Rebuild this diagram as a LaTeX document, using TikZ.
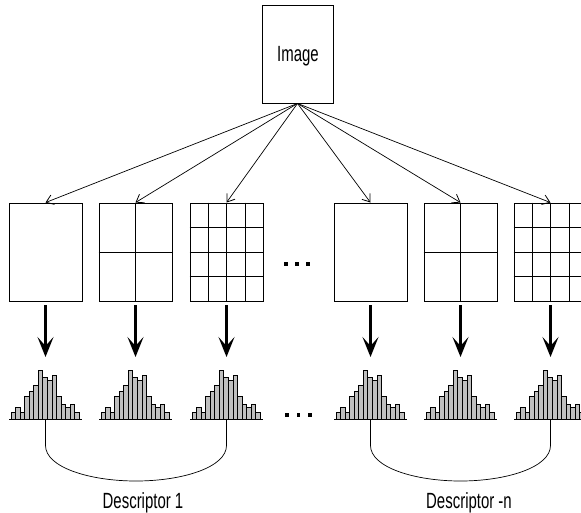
\documentclass[tikz,border=0pt]{standalone}
\usepackage{fontspec}
\setmainfont{Liberation Sans}
\usetikzlibrary{arrows.meta,calc}

\tikzset{
  frame/.style={draw, line width=0.9pt, minimum width=73pt, minimum height=98pt, inner sep=0pt},
  thinarrow/.style={draw, line width=0.7pt, -{Straight Barb[length=7pt,width=10pt,line width=0.8pt]}},
  bigarrow/.style={draw, line width=2.6pt, -{Stealth[length=20pt,width=16pt,inset=9pt]}},
  gridline/.style={line width=0.8pt},
  bar/.style={draw, line width=0.8pt, fill=gray!50},
  dotbox/.style={fill=black, minimum width=3.5pt, minimum height=4.6pt, inner sep=0pt},
  brace/.style={line width=0.7pt},
  label/.style={font=\fontsize{22}{24}\selectfont, xscale=0.68, anchor=base, inner sep=0pt},
  pics/histo/.style={code={
    \foreach \h [count=\i from 0] in {7,12,7,22.7,28,33.7,49,42,38.7,44,22.7,15,12,15,7}{
      \path[bar] ({-34.5+\i*4.553},0) rectangle ({-34.5+(\i+1)*4.553},-\h);
    }
    \draw[line width=1.6pt] (-36.5,0) -- (36.5,0);
  }}
}

\begin{document}
\begin{tikzpicture}[x=1pt,y=-1pt]
\useasboundingbox (0,0) rectangle (581,512);
\clip (0,0) rectangle (581,512);

% source image
\node[frame, minimum width=71pt] (img) at (297.5,54) {};
\node[label] (imgtext) at (298,61.5) {Image};

% partition frames: 1x1, 2x2 and 4x4 cells, repeated for the last descriptor
\foreach \n/\x in {1/45.5, 2/135.5, 3/226.5, 4/370.5, 5/460.5, 6/550.5}{
  \node[frame] (b\n) at (\x,252) {};
}
\foreach \n in {2,5}{
  \draw[gridline] (b\n.north) -- (b\n.south);
  \draw[gridline] (b\n.west) -- (b\n.east);
}
\foreach \n in {3,6}{
  \foreach \k in {1,2,3}{
    \draw[gridline] ($(b\n.north west)!\k/4!(b\n.north east)$) -- ($(b\n.south west)!\k/4!(b\n.south east)$);
    \draw[gridline] ($(b\n.north west)!\k/4!(b\n.south west)$) -- ($(b\n.north east)!\k/4!(b\n.south east)$);
  }
}

% arrows from the image to every partition
\foreach \n in {1,...,6}{
  \draw[thinarrow] (img.south) -- (b\n.north);
}

% histograms under each frame
\foreach \n/\x in {1/45.5, 2/135.5, 3/226.5, 4/370.5, 5/460.5, 6/550.5}{
  \coordinate (h\n) at (\x,419.5);
  \pic at (h\n) {histo};
  \coordinate (t\n) at (\x,357);
  \draw[bigarrow] ($(b\n.south)+(0,4)$) -- (t\n);
}

% ellipses between the groups
\foreach \k in {0,1,2}{
  \node[dotbox] (da\k) at (286+\k*11,264) {};
  \node[dotbox] (db\k) at (287+\k*11.5,415) {};
}

% braces collecting histograms into descriptors
\coordinate (m1) at (136,481);
\coordinate (m2) at (460.5,481);
\draw[brace] (h1) -- ($(h1)+(0,26)$) .. controls ($(h1)+(0,48)$) and (90,481) .. (m1)
  .. controls (182,481) and ($(h3)+(0,48)$) .. ($(h3)+(0,26)$) -- (h3);
\draw[brace] (h4) -- ($(h4)+(0,26)$) .. controls ($(h4)+(0,48)$) and (415,481) .. (m2)
  .. controls (506,481) and ($(h6)+(0,48)$) .. ($(h6)+(0,26)$) -- (h6);

\node[label] (d1) at (143,508) {Descriptor 1};
\node[label] (dn) at (469,508) {Descriptor -n};
\end{tikzpicture}
\end{document}
